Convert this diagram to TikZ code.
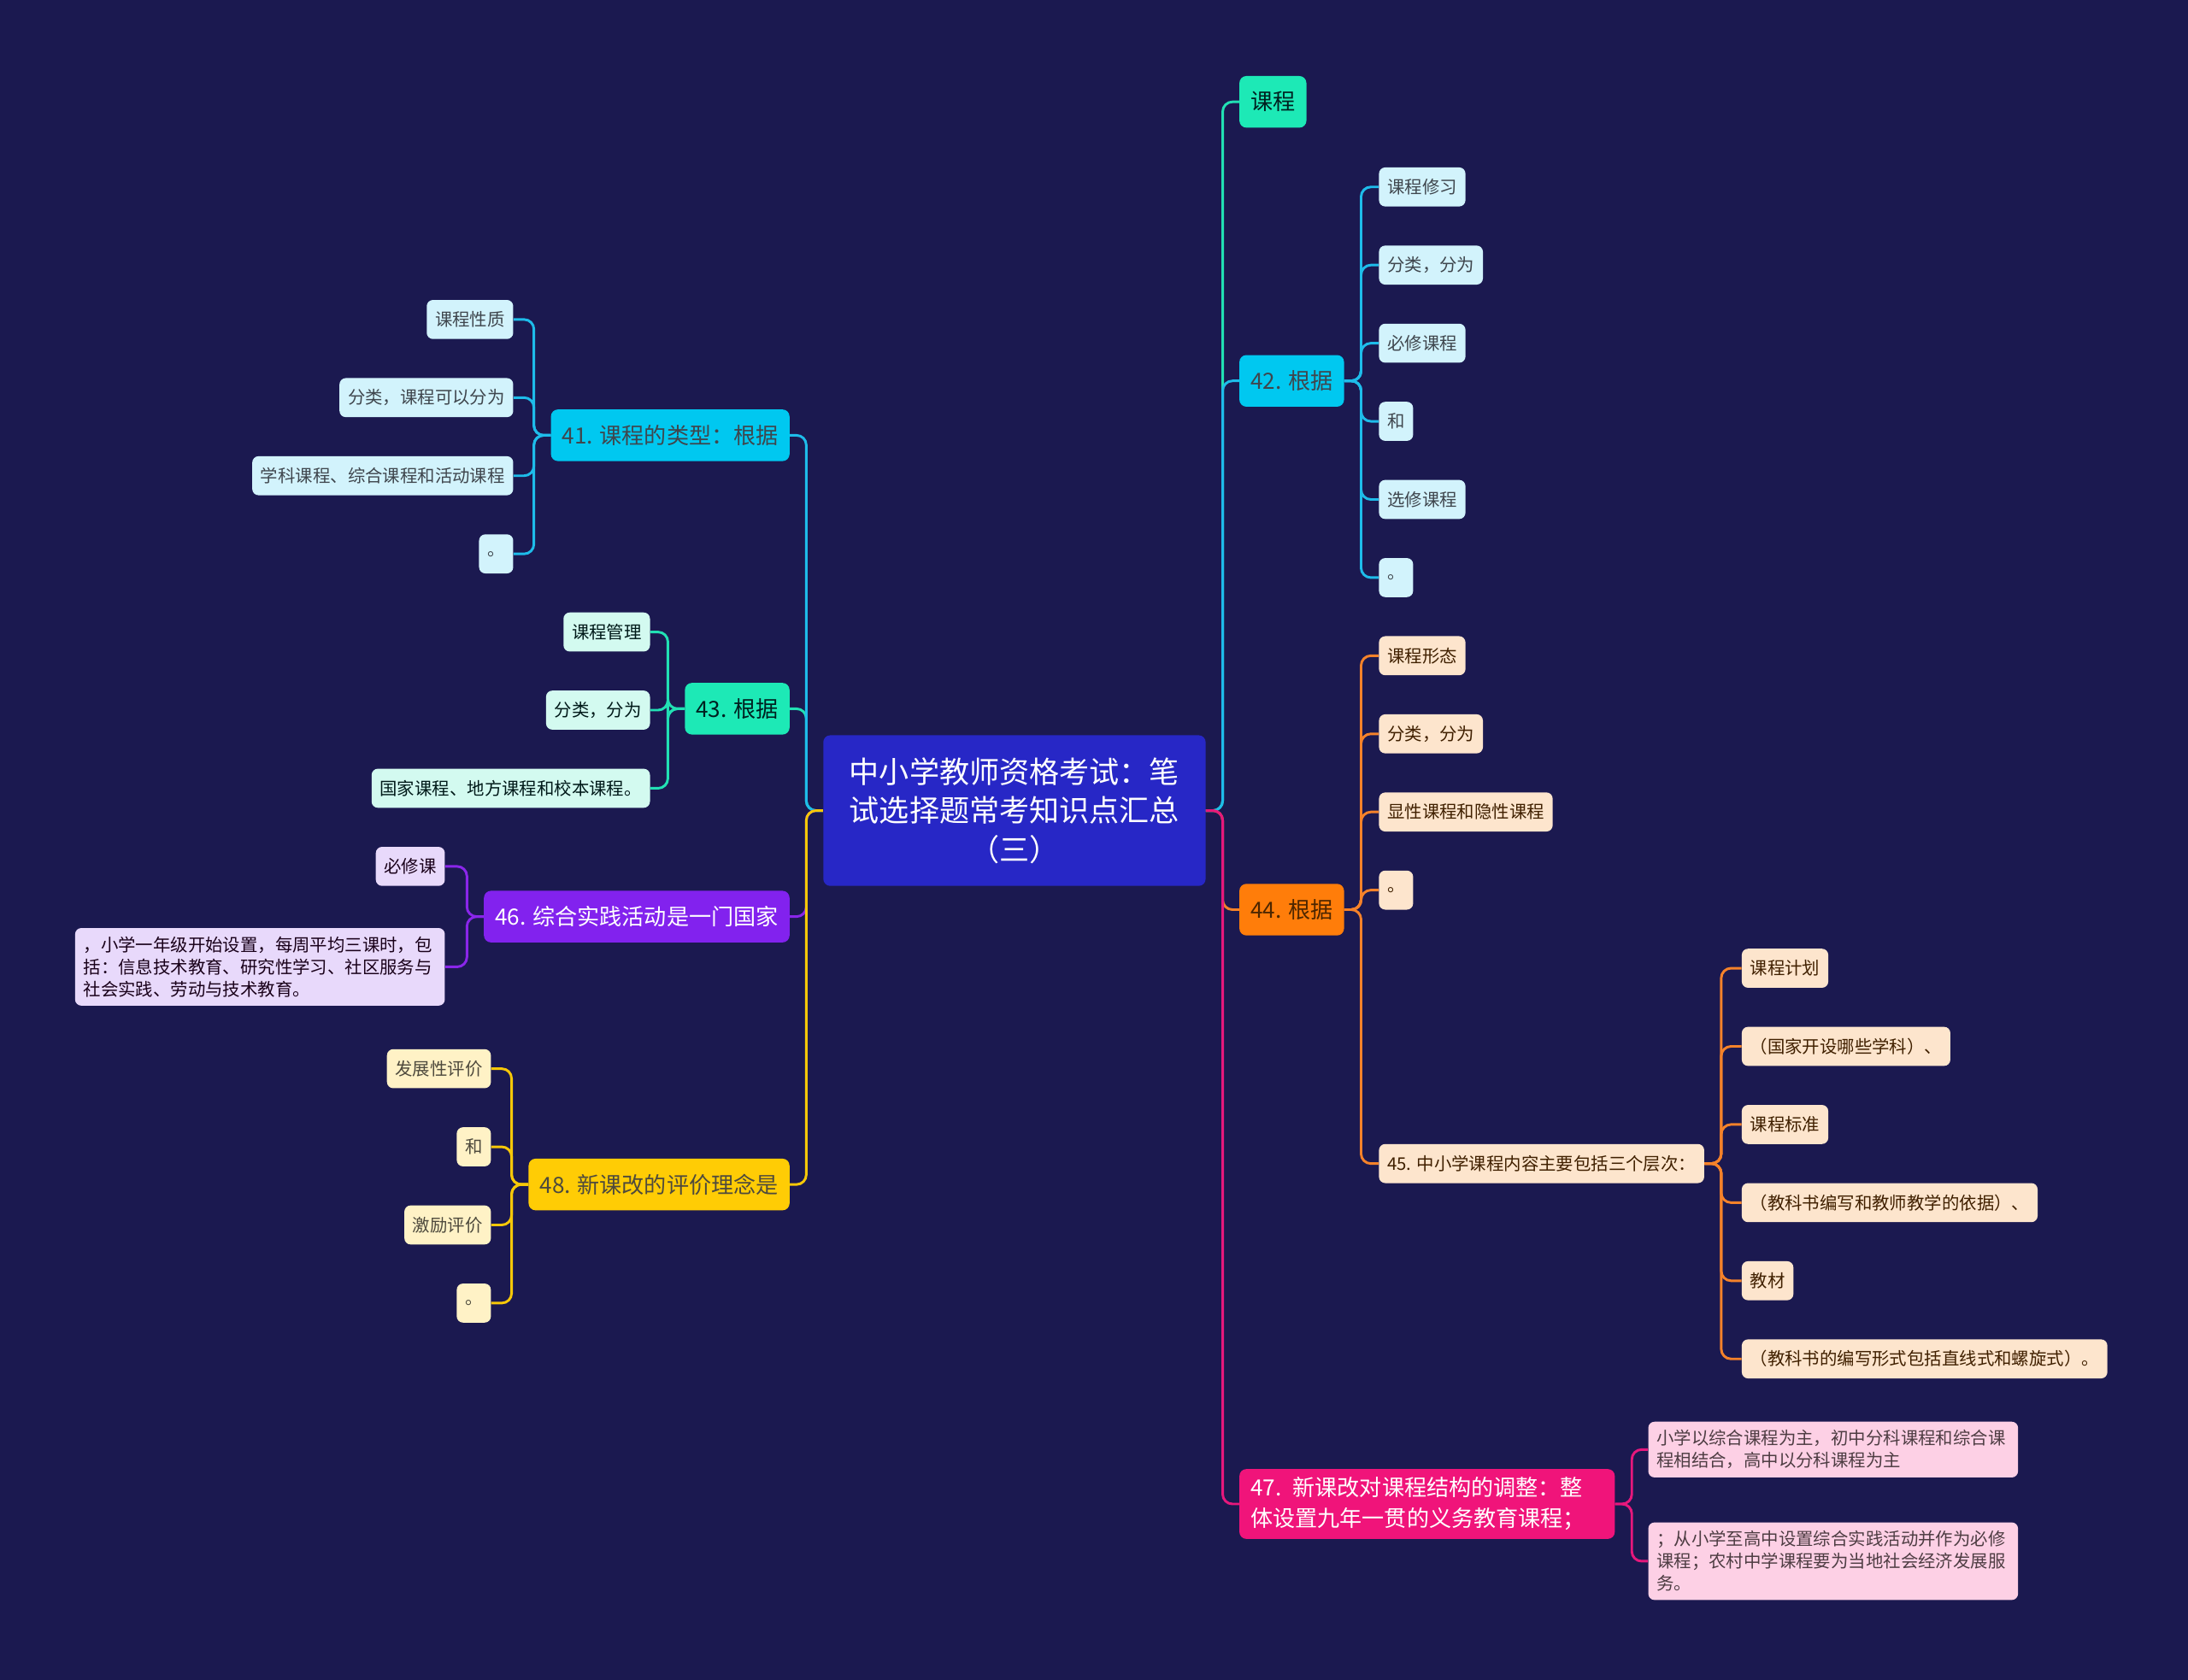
\documentclass[tikz,border=0pt]{standalone}
\usepackage{fontspec}
\setmainfont{Noto Sans CJK SC}
\usepackage{tikz}
\usetikzlibrary{positioning,calc}
\usepackage{xcolor}

\definecolor{bgnavy}{HTML}{1B1950}
\definecolor{rootblue}{HTML}{2727C6}
\definecolor{tealbox}{HTML}{1DE9B6}
\definecolor{cyanbox}{HTML}{00C8F0}
\definecolor{orangebox}{HTML}{FF7D0A}
\definecolor{pinkbox}{HTML}{F0147A}
\definecolor{purplebox}{HTML}{8222EE}
\definecolor{yellowbox}{HTML}{FFCC05}
\definecolor{tealline}{HTML}{22E0B4}
\definecolor{cyanline}{HTML}{1EBCEA}
\definecolor{orangeline}{HTML}{F5822A}
\definecolor{pinkline}{HTML}{E6187C}
\definecolor{purpleline}{HTML}{8A26EA}
\definecolor{yellowline}{HTML}{F7C808}
\definecolor{tealleaf}{HTML}{D3FAF0}
\definecolor{cyanleaf}{HTML}{D2F3FC}
\definecolor{orangeleaf}{HTML}{FDE5CD}
\definecolor{pinkleaf}{HTML}{FDD0E5}
\definecolor{purpleleaf}{HTML}{E8D9FB}
\definecolor{yellowleaf}{HTML}{FFF2C6}

\begin{document}
\begin{tikzpicture}[x=1pt,y=-1pt,
  rootbox/.style={fill=rootblue,text=white,rounded corners=5pt,align=center,
    minimum width=274pt,minimum height=108pt,inner sep=0pt,
    font=\fontsize{21.5}{28}\selectfont},
  mainbox/.style={rounded corners=5pt,minimum height=37pt,inner xsep=8pt,
    inner ysep=0pt,font=\fontsize{16}{22}\selectfont},
  leafbox/.style={rounded corners=4.5pt,minimum height=28pt,inner xsep=6pt,
    inner ysep=0pt,font=\fontsize{12.5}{16}\selectfont},
  longleaf/.style={leafbox,align=left,text width=253pt,inner ysep=6pt},
  link/.style={line width=1.8pt,rounded corners=7pt}]
  \fill[bgnavy] (0,0) rectangle (1568,1204);
  \useasboundingbox (0,0) rectangle (1568,1204);

  % centre
  \node[rootbox] (root) at (727,581) {中小学教师资格考试：笔\\试选择题常考知识点汇总\\（三）};

  % right branches
  \node[mainbox,fill=tealbox,text=black!75!teal,anchor=west] (kc) at (888,73) {课程};
  \node[mainbox,fill=cyanbox,text=black!80!cyan,anchor=west] (b42) at (888,273) {42. 根据};
  \node[mainbox,fill=orangebox,text=black!70!orange,anchor=west] (b44) at (888,652) {44. 根据};
  \node[mainbox,fill=pinkbox,text=white,anchor=west,align=left,text width=253pt,inner ysep=6pt] (b47) at (888,1078)
    {47. 新课改对课程结构的调整：整\\体设置九年一贯的义务教育课程；};

  % left branches
  \node[mainbox,fill=cyanbox,text=black!80!cyan,anchor=east] (b41) at (566,312) {41. 课程的类型：根据};
  \node[mainbox,fill=tealbox,text=black!75!teal,anchor=east] (b43) at (566,508) {43. 根据};
  \node[mainbox,fill=purplebox,text=white,anchor=east] (b46) at (566,657) {46. 综合实践活动是一门国家};
  \node[mainbox,fill=yellowbox,text=black!80!yellow,anchor=east] (b48) at (566,849) {48. 新课改的评价理念是};

  % 42 leaves
  \begin{scope}[every node/.style={leafbox,fill=cyanleaf,text=black!80!cyan,anchor=west}]
    \node (c42a) at (988,134) {课程修习};
    \node (c42b) at (988,190) {分类，分为};
    \node (c42c) at (988,246) {必修课程};
    \node (c42d) at (988,302) {和};
    \node (c42e) at (988,358) {选修课程};
    \node (c42f) at (988,414) {。};
  \end{scope}

  % 44 leaves
  \begin{scope}[every node/.style={leafbox,fill=orangeleaf,text=black!75!orange,anchor=west}]
    \node (c44a) at (988,470) {课程形态};
    \node (c44b) at (988,526) {分类，分为};
    \node (c44c) at (988,582) {显性课程和隐性课程};
    \node (c44d) at (988,638) {。};
    \node (b45) at (988,834) {45. 中小学课程内容主要包括三个层次：};
    \node (c45a) at (1248,694) {课程计划};
    \node (c45b) at (1248,750) {（国家开设哪些学科）、};
    \node (c45c) at (1248,806) {课程标准};
    \node (c45d) at (1248,862) {（教科书编写和教师教学的依据）、};
    \node (c45e) at (1248,918) {教材};
    \node (c45f) at (1248,974) {（教科书的编写形式包括直线式和螺旋式）。};
  \end{scope}

  % 47 leaves
  \node[longleaf,fill=pinkleaf,text=black!80!magenta,anchor=west] (c47a) at (1181,1039)
    {小学以综合课程为主，初中分科课程和综合课\\程相结合，高中以分科课程为主};
  \node[longleaf,fill=pinkleaf,text=black!80!magenta,anchor=west] (c47b) at (1181,1119)
    {；从小学至高中设置综合实践活动并作为必修\\课程；农村中学课程要为当地社会经济发展服\\务。};

  % 41 leaves
  \begin{scope}[every node/.style={leafbox,fill=cyanleaf,text=black!80!cyan,anchor=east}]
    \node (c41a) at (368,229) {课程性质};
    \node (c41b) at (368,285) {分类，课程可以分为};
    \node (c41c) at (368,341) {学科课程、综合课程和活动课程};
    \node (c41d) at (368,397) {。};
  \end{scope}

  % 43 leaves
  \begin{scope}[every node/.style={leafbox,fill=tealleaf,text=black!80!teal,anchor=east}]
    \node (c43a) at (466,453) {课程管理};
    \node (c43b) at (466,509) {分类，分为};
    \node (c43c) at (466,565) {国家课程、地方课程和校本课程。};
  \end{scope}

  % 46 leaves
  \node[leafbox,fill=purpleleaf,text=black!80!violet,anchor=east] (c46a) at (319,621) {必修课};
  \node[longleaf,fill=purpleleaf,text=black!80!violet,anchor=east] (c46b) at (319,693)
    {，小学一年级开始设置，每周平均三课时，包\\括：信息技术教育、研究性学习、社区服务与\\社会实践、劳动与技术教育。};

  % 48 leaves
  \begin{scope}[every node/.style={leafbox,fill=yellowleaf,text=black!80!yellow,anchor=east}]
    \node (c48a) at (352,766) {发展性评价};
    \node (c48b) at (352,822) {和};
    \node (c48c) at (352,878) {激励评价};
    \node (c48d) at (352,934) {。};
  \end{scope}

  % connectors from the centre
  \draw[link,tealline] (root.east) -- ++(12,0) |- (kc.west);
  \draw[link,cyanline] (root.east) -- ++(12,0) |- (b42.west);
  \draw[link,orangeline] (root.east) -- ++(12,0) |- (b44.west);
  \draw[link,pinkline] (root.east) -- ++(12,0) |- (b47.west);
  \draw[link,tealline] (root.west) -- ++(-12,0) |- (b43.east);
  \draw[link,cyanline] (root.west) -- ++(-12,0) |- (b41.east);
  \draw[link,purpleline] (root.west) -- ++(-12,0) |- (b46.east);
  \draw[link,yellowline] (root.west) -- ++(-12,0) |- (b48.east);

  % connectors to leaves
  \foreach \c in {c42a,c42b,c42c,c42d,c42e,c42f}
    \draw[link,cyanline] (b42.east) -- ++(12,0) |- (\c.west);
  \foreach \c in {c44a,c44b,c44c,c44d,b45}
    \draw[link,orangeline] (b44.east) -- ++(12,0) |- (\c.west);
  \foreach \c in {c45a,c45b,c45c,c45d,c45e,c45f}
    \draw[link,orangeline] (b45.east) -- ++(12,0) |- (\c.west);
  \foreach \c in {c47a,c47b}
    \draw[link,pinkline] (b47.east) -- ++(12,0) |- (\c.west);
  \foreach \c in {c41a,c41b,c41c,c41d}
    \draw[link,cyanline] (b41.west) -- ++(-12,0) |- (\c.east);
  \foreach \c in {c43a,c43b,c43c}
    \draw[link,tealline] (b43.west) -- ++(-12,0) |- (\c.east);
  \foreach \c in {c46a,c46b}
    \draw[link,purpleline] (b46.west) -- ++(-12,0) |- (\c.east);
  \foreach \c in {c48a,c48b,c48c,c48d}
    \draw[link,yellowline] (b48.west) -- ++(-12,0) |- (\c.east);
\end{tikzpicture}
\end{document}
